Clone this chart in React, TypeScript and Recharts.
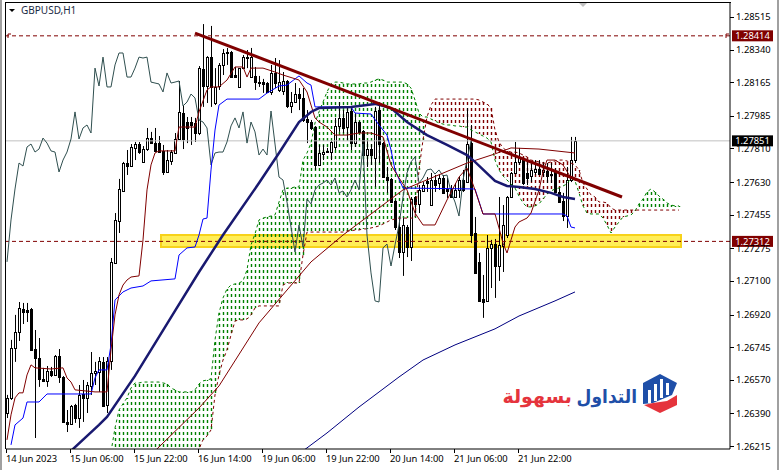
import { ComposedChart, Bar, Line, XAxis, YAxis, ReferenceLine, ReferenceArea } from 'recharts'

const FONT = '"Noto Sans", sans-serif'
const DARK_RED = '#800000'
const CLOUD_GREEN = '#008000'

const priceTicks = [1.28515, 1.2834, 1.28165, 1.27985, 1.2781, 1.2763, 1.27455, 1.27275, 1.271, 1.2692, 1.26745, 1.2657, 1.2639, 1.26215]
const timeTicks = [0, 16, 32, 48, 64, 80, 96, 112, 128]
const timeLabels = ['14 Jun 2023', '15 Jun 06:00', '15 Jun 22:00', '16 Jun 14:00', '19 Jun 06:00', '19 Jun 22:00', '20 Jun 14:00', '21 Jun 06:00', '21 Jun 22:00']

const opens = [
  1.26392, 1.26473, 1.26741, 1.26826, 1.2695, 1.26944, 1.2695, 1.26735, 1.26687, 1.26575,
  1.26564, 1.26617, 1.26596, 1.26698, 1.26585, 1.26344, 1.26333, 1.26435, 1.26365, 1.26494,
  1.26473, 1.26537, 1.26607, 1.26612, 1.26666, 1.26435, 1.26671, 1.27196, 1.27421, 1.27582,
  1.27732, 1.27716, 1.27813, 1.27834, 1.27738, 1.27807, 1.27866, 1.27839, 1.27839, 1.27797,
  1.27684, 1.27743, 1.27786, 1.27861, 1.28, 1.27952, 1.27952, 1.27947, 1.27893, 1.28236,
  1.28145, 1.283, 1.28054, 1.28145, 1.28258, 1.28327, 1.28327, 1.28204, 1.2814, 1.28241,
  1.283, 1.28193, 1.28199, 1.28166, 1.28166, 1.28161, 1.28113, 1.28215, 1.28124, 1.28118,
  1.28172, 1.28038, 1.28059, 1.28102, 1.28081, 1.27968, 1.27952, 1.27925, 1.27722, 1.27781,
  1.27797, 1.27791, 1.27818, 1.27931, 1.27974, 1.27925, 1.28011, 1.27839, 1.27952, 1.27904,
  1.27775, 1.27807, 1.27759, 1.28016, 1.27839, 1.27657, 1.27647, 1.27529, 1.27389, 1.27255,
  1.27389, 1.27282, 1.2755, 1.27513, 1.27582, 1.27636, 1.27507, 1.27641, 1.27625, 1.27652,
  1.27593, 1.27588, 1.2755, 1.27588, 1.27641, 1.2763, 1.27839, 1.27357, 1.27202, 1.27003,
  1.26993, 1.27277, 1.27298, 1.2718, 1.27287, 1.27346, 1.2755, 1.27679, 1.27738, 1.27748,
  1.27679, 1.27663, 1.27684, 1.277, 1.27684, 1.27689, 1.27673, 1.27689, 1.27577, 1.27529,
  1.27448, 1.27641, 1.27748,
]
const closes = [
  1.26473, 1.26741, 1.26826, 1.26955, 1.26934, 1.26934, 1.2673, 1.26687, 1.26575, 1.26564,
  1.26617, 1.26596, 1.26698, 1.26585, 1.26344, 1.26333, 1.2643, 1.26365, 1.26489, 1.26473,
  1.26542, 1.26607, 1.26617, 1.26671, 1.2643, 1.26671, 1.27202, 1.27427, 1.27593, 1.27732,
  1.27716, 1.27818, 1.27834, 1.27791, 1.27807, 1.27866, 1.27839, 1.27797, 1.27791, 1.27684,
  1.27748, 1.27791, 1.27861, 1.28006, 1.27861, 1.2792, 1.27936, 1.27893, 1.28241, 1.28145,
  1.283, 1.2814, 1.2814, 1.28258, 1.28322, 1.28322, 1.28193, 1.28193, 1.28241, 1.283,
  1.28295, 1.283, 1.28166, 1.28161, 1.28156, 1.28113, 1.28215, 1.28161, 1.28166, 1.28172,
  1.28038, 1.28059, 1.28102, 1.28081, 1.27963, 1.27952, 1.2792, 1.27722, 1.27786, 1.27791,
  1.27791, 1.27845, 1.27931, 1.27974, 1.2792, 1.28006, 1.27839, 1.27952, 1.27899, 1.27775,
  1.27807, 1.27775, 1.28011, 1.27834, 1.27657, 1.27641, 1.27523, 1.27389, 1.27255, 1.274,
  1.27282, 1.27539, 1.27513, 1.27588, 1.27614, 1.27625, 1.27641, 1.27614, 1.27652, 1.27572,
  1.27582, 1.2755, 1.27588, 1.27641, 1.27588, 1.27834, 1.27346, 1.27143, 1.26993, 1.26987,
  1.27277, 1.27298, 1.2718, 1.27293, 1.274, 1.2755, 1.27679, 1.27738, 1.27765, 1.27625,
  1.27652, 1.27695, 1.277, 1.27673, 1.27695, 1.27663, 1.27668, 1.27577, 1.27523, 1.27448,
  1.27641, 1.27748, 1.27851,
]
const highs = [
  1.26489, 1.26784, 1.26918, 1.26987, 1.26982, 1.26982, 1.26955, 1.26837, 1.26794, 1.26634,
  1.26644, 1.26639, 1.26703, 1.26735, 1.2659, 1.26408, 1.26435, 1.26441, 1.26542, 1.26569,
  1.26558, 1.26719, 1.26666, 1.26692, 1.26692, 1.26692, 1.27223, 1.27464, 1.27647, 1.27738,
  1.27802, 1.27834, 1.27845, 1.27845, 1.27823, 1.2792, 1.27899, 1.2792, 1.27877, 1.27829,
  1.27802, 1.27802, 1.27893, 1.28172, 1.28043, 1.27979, 1.27979, 1.27974, 1.28252, 1.28477,
  1.28305, 1.28467, 1.28241, 1.28268, 1.28343, 1.28349, 1.28333, 1.28247, 1.28241, 1.28311,
  1.28338, 1.28349, 1.28247, 1.28199, 1.28183, 1.28166, 1.28258, 1.28295, 1.28284, 1.2822,
  1.28177, 1.28113, 1.28161, 1.28134, 1.28134, 1.28016, 1.27963, 1.2793, 1.27829, 1.27829,
  1.27813, 1.2785, 1.27974, 1.28059, 1.28016, 1.28033, 1.28033, 1.28, 1.27957, 1.27909,
  1.27856, 1.27834, 1.28033, 1.28054, 1.27845, 1.27711, 1.27652, 1.27534, 1.27443, 1.27437,
  1.274, 1.2755, 1.27555, 1.27614, 1.2763, 1.27657, 1.27679, 1.27668, 1.27668, 1.27668,
  1.27652, 1.27614, 1.27625, 1.27657, 1.27695, 1.28027, 1.27936, 1.27443, 1.2725, 1.27132,
  1.27346, 1.2732, 1.27325, 1.2755, 1.27507, 1.27555, 1.27684, 1.27845, 1.27813, 1.27753,
  1.27748, 1.27732, 1.27748, 1.27748, 1.27738, 1.27732, 1.27732, 1.27705, 1.27598, 1.27572,
  1.27711, 1.27872, 1.27872,
]
const lows = [
  1.26365, 1.26462, 1.26666, 1.26778, 1.26869, 1.2688, 1.26725, 1.26258, 1.26532, 1.26558,
  1.26532, 1.26585, 1.26591, 1.26553, 1.26339, 1.2629, 1.26328, 1.26339, 1.26312, 1.26344,
  1.26392, 1.26489, 1.26542, 1.26505, 1.26424, 1.26392, 1.26623, 1.27191, 1.27357, 1.27577,
  1.27668, 1.27711, 1.27748, 1.27781, 1.27733, 1.27797, 1.27834, 1.27792, 1.27786, 1.27668,
  1.27679, 1.27722, 1.27781, 1.27856, 1.27807, 1.27839, 1.27829, 1.27845, 1.27882, 1.28033,
  1.28054, 1.28033, 1.28043, 1.28124, 1.28204, 1.28258, 1.28188, 1.28188, 1.2814, 1.28236,
  1.28241, 1.28188, 1.28124, 1.2814, 1.28108, 1.28108, 1.28097, 1.28134, 1.28113, 1.28097,
  1.28027, 1.28, 1.28054, 1.28016, 1.27952, 1.27839, 1.27909, 1.27695, 1.27716, 1.27748,
  1.27786, 1.27748, 1.27802, 1.27899, 1.27893, 1.27856, 1.27802, 1.27818, 1.27893, 1.27732,
  1.27711, 1.27722, 1.27604, 1.27732, 1.27652, 1.27572, 1.27518, 1.27373, 1.27223, 1.27127,
  1.27228, 1.27207, 1.27464, 1.27464, 1.27577, 1.27577, 1.27502, 1.27577, 1.27588, 1.27566,
  1.27545, 1.27545, 1.27545, 1.27545, 1.27577, 1.27625, 1.27303, 1.27138, 1.26987, 1.26902,
  1.26987, 1.27062, 1.27009, 1.271, 1.27148, 1.2733, 1.27545, 1.27673, 1.27722, 1.27614,
  1.27614, 1.2763, 1.27668, 1.27668, 1.27657, 1.27625, 1.27625, 1.27572, 1.27518, 1.27421,
  1.27384, 1.2763, 1.27732,
]

// chikou span, plotted from the first bar
const chikou = [
  1.27202, 1.27427, 1.27593, 1.27732, 1.27716, 1.27818, 1.27834, 1.27791, 1.27807, 1.27866,
  1.27839, 1.27797, 1.27791, 1.27684, 1.27748, 1.27791, 1.27861, 1.28006, 1.27861, 1.2792,
  1.27936, 1.27893, 1.28241, 1.28145, 1.283, 1.2814, 1.2814, 1.28258, 1.28322, 1.28322,
  1.28193, 1.28193, 1.28241, 1.283, 1.28295, 1.283, 1.28166, 1.28161, 1.28156, 1.28113,
  1.28215, 1.28161, 1.28166, 1.28172, 1.28038, 1.28059, 1.28102, 1.28081, 1.27963, 1.27952,
  1.2792, 1.27722, 1.27786, 1.27791, 1.27791, 1.27845, 1.27931, 1.27974, 1.2792, 1.28006,
  1.27839, 1.27952, 1.27899, 1.27775, 1.27807, 1.27775, 1.28011, 1.27834, 1.27657, 1.27641,
  1.27523, 1.27389, 1.27255, 1.274, 1.27282, 1.27539, 1.27513, 1.27588, 1.27614, 1.27625,
  1.27641, 1.27614, 1.27652, 1.27572, 1.27582, 1.2755, 1.27588, 1.27641, 1.27588, 1.27834,
  1.27346, 1.27143, 1.26993, 1.26987, 1.27277, 1.27298, 1.2718, 1.27293, 1.274, 1.2755,
  1.27679, 1.27738, 1.27765, 1.27625, 1.27652, 1.27695, 1.277, 1.27673, 1.27695, 1.27663,
  1.27668, 1.27577, 1.27523, 1.27448, 1.27641, 1.27748, 1.27851,
]

// senkou spans start at bar 26 and run 26 bars past the last candle
const SPAN_START = 26
const spanA = [
  1.26183, 1.26312, 1.26408, 1.26441, 1.26473, 1.26526, 1.26553, 1.26553, 1.26558, 1.26558,
  1.26558, 1.26558, 1.26558, 1.26553, 1.26548, 1.26526, 1.26516, 1.26505, 1.26505, 1.26505,
  1.26505, 1.26516, 1.26548, 1.26564, 1.26569, 1.26575, 1.26784, 1.26928, 1.27009, 1.27057,
  1.27078, 1.27084, 1.27089, 1.271, 1.27159, 1.27293, 1.27352, 1.27427, 1.27437, 1.27443,
  1.27448, 1.27454, 1.27523, 1.27588, 1.27598, 1.27598, 1.27604, 1.27604, 1.27748, 1.27786,
  1.27839, 1.27947, 1.28006, 1.28059, 1.28113, 1.28156, 1.28166, 1.28166, 1.28161, 1.28156,
  1.28156, 1.28156, 1.28156, 1.28161, 1.28161, 1.28166, 1.28177, 1.28183, 1.28177, 1.28166,
  1.28166, 1.28166, 1.28166, 1.28166, 1.28156, 1.28134, 1.2807, 1.28, 1.27979, 1.27979,
  1.27968, 1.27957, 1.27947, 1.27941, 1.27936, 1.27936, 1.27931, 1.27931, 1.27925, 1.27925,
  1.27909, 1.27899, 1.27888, 1.27877, 1.27866, 1.27845, 1.27748, 1.27695, 1.27663, 1.27641,
  1.2762, 1.27598, 1.27555, 1.27518, 1.27497, 1.27497, 1.27502, 1.27513, 1.27539, 1.27566,
  1.27582, 1.27593, 1.27598, 1.27609, 1.2762, 1.27652, 1.27636, 1.27572, 1.27502, 1.27464,
  1.27459, 1.27459, 1.27459, 1.27437, 1.274, 1.27357, 1.27389, 1.27416, 1.27443, 1.27448,
  1.27454, 1.27475, 1.27513, 1.27539, 1.27577, 1.27593, 1.27577, 1.27555, 1.27539, 1.27518,
  1.27507, 1.27502, 1.27502,
]
const spanB = [
  1.2615, 1.2615, 1.2615, 1.2615, 1.2615, 1.2615, 1.2615, 1.2615, 1.2615, 1.2615,
  1.2615, 1.2615, 1.2615, 1.2615, 1.2615, 1.2615, 1.2615, 1.2615, 1.2615, 1.2615,
  1.2615, 1.2615, 1.26199, 1.26248, 1.26269, 1.26301, 1.26489, 1.26596, 1.26676, 1.2673,
  1.2681, 1.26885, 1.26891, 1.26891, 1.26896, 1.26918, 1.26955, 1.26966, 1.26966, 1.26966,
  1.26966, 1.26966, 1.26966, 1.27078, 1.27089, 1.27089, 1.27089, 1.27089, 1.27239, 1.27362,
  1.27362, 1.27362, 1.27362, 1.27362, 1.27362, 1.27362, 1.27362, 1.27362, 1.27362, 1.27368,
  1.27368, 1.27373, 1.27373, 1.27379, 1.27379, 1.27384, 1.27389, 1.27395, 1.27405, 1.27416,
  1.27427, 1.27432, 1.27437, 1.27437, 1.27437, 1.27437, 1.27437, 1.27695, 1.27856, 1.27979,
  1.28043, 1.28075, 1.28075, 1.28075, 1.28075, 1.28075, 1.28075, 1.28075, 1.28075, 1.28075,
  1.28075, 1.28075, 1.2807, 1.28059, 1.28049, 1.28027, 1.27909, 1.27845, 1.27813, 1.27797,
  1.27791, 1.27791, 1.27786, 1.27775, 1.27765, 1.27748, 1.27743, 1.27738, 1.27732, 1.27732,
  1.27738, 1.27743, 1.27748, 1.27748, 1.27743, 1.27732, 1.27722, 1.27695, 1.27625, 1.27593,
  1.27561, 1.2755, 1.27523, 1.27523, 1.27518, 1.27491, 1.2748, 1.2748, 1.2748, 1.2748,
  1.2748, 1.2748, 1.2748, 1.2748, 1.2748, 1.2748, 1.2748, 1.2748, 1.2748, 1.2748,
  1.2748, 1.2748, 1.2748,
]

// lines read at their corners as [bar, price]; the stretches between are joined straight
const tenkan = [
  [0, 1.26248], [1, 1.26382], [2, 1.26473], [3, 1.265], [4, 1.265], [5, 1.26596], [6, 1.2665], [7, 1.26634],
  [11, 1.26628], [14, 1.26634], [15, 1.2658], [16, 1.26558], [17, 1.26516], [22, 1.26505], [25, 1.26505],
  [26, 1.2673], [27, 1.26918], [28, 1.27025], [29, 1.27078], [30, 1.27105], [31, 1.27121], [33, 1.27127],
  [34, 1.2732], [35, 1.27588], [36, 1.27722], [37, 1.27786], [38, 1.27797], [42, 1.27797], [43, 1.27925],
  [47, 1.27925], [48, 1.28006], [50, 1.28124], [51, 1.2814], [53, 1.2814], [55, 1.28177], [57, 1.28247],
  [59, 1.28247], [60, 1.28193], [61, 1.28241], [64, 1.28241], [67, 1.2822], [69, 1.28204], [73, 1.28177],
  [75, 1.28113], [76, 1.28043], [77, 1.27974], [78, 1.27952], [80, 1.27925], [82, 1.27882], [85, 1.27882],
  [88, 1.27893], [91, 1.27893], [94, 1.27872], [96, 1.27722], [98, 1.27652], [100, 1.27588], [102, 1.27464],
  [104, 1.274], [107, 1.274], [110, 1.27534], [113, 1.27657], [115, 1.27705], [117, 1.27588], [119, 1.27459],
  [122, 1.27459], [123, 1.27384], [124, 1.27303], [125, 1.2725], [126, 1.2732], [127, 1.27389], [128, 1.27416],
  [130, 1.27437], [131, 1.27464], [133, 1.27588], [134, 1.27684], [135, 1.27748], [137, 1.27748], [139, 1.27722],
  [141, 1.27652], [142, 1.27641],
]
const kijun = [
  [1, 1.26221], [2, 1.26328], [4, 1.26365], [5, 1.26451], [8, 1.26451], [10, 1.26494], [21, 1.26494], [22, 1.2658],
  [23, 1.26623], [25, 1.26623], [26, 1.26757], [27, 1.26998], [29, 1.27041], [31, 1.27062], [34, 1.27073],
  [36, 1.271], [42, 1.27111], [43, 1.27239], [45, 1.27277], [47, 1.27282], [48, 1.27346], [49, 1.27432],
  [50, 1.27437], [51, 1.27695], [52, 1.27909], [53, 1.28043], [55, 1.28075], [63, 1.28075], [65, 1.28107],
  [68, 1.28145], [70, 1.2815], [73, 1.28199], [75, 1.28161], [76, 1.2815], [77, 1.28033], [86, 1.28033],
  [87, 1.28], [91, 1.27995], [93, 1.27936], [95, 1.27882], [96, 1.27802], [97, 1.27695], [99, 1.27598],
  [117, 1.27593], [119, 1.27459], [139, 1.27459], [140, 1.27448], [141, 1.27389], [142, 1.27384],
]
const maNavyThick = [
  [16, 1.26189], [23, 1.26328], [25, 1.26371], [32, 1.26591], [42, 1.26939], [48, 1.27148], [54, 1.27346],
  [63, 1.27625], [68, 1.27786], [73, 1.27952], [76, 1.28006], [78, 1.28027], [86, 1.28033], [92, 1.28049],
  [96, 1.28027], [100, 1.27952], [105, 1.27882], [110, 1.27829], [115, 1.27775], [117, 1.27738], [122, 1.27636],
  [125, 1.27609], [128, 1.27604], [132, 1.27593], [136, 1.27572], [139, 1.2755], [142, 1.27539],
]
const maRedThin = [
  [37, 1.26189], [48, 1.26419], [53, 1.26537], [63, 1.26875], [76, 1.27202], [84, 1.27346], [99, 1.27588],
  [115, 1.27732], [122, 1.27781], [126, 1.27813], [133, 1.27807], [142, 1.27786],
]
const maNavyThin = [
  [74, 1.26189], [80, 1.26285], [88, 1.26424], [98, 1.26585], [104, 1.26676], [112, 1.26757], [122, 1.26843],
  [128, 1.26912], [137, 1.26993], [142, 1.27041],
]

const resistanceLevel = 1.28414
const supportLevel = 1.27312
const lastPrice = 1.27851
const trendFrom = { x: 47, y: 1.28429 }
const trendTo = { x: 153.75, y: 1.2755 }
const zone = { x1: 38.5, x2: 168.5, y1: 1.27346, y2: 1.27282 }

const BAR_COUNT = 169

function pick(points: number[][], i: number) {
  const hit = points.find((p) => p[0] === i)
  return hit ? hit[1] : undefined
}

const rows = Array.from({ length: BAR_COUNT }, (_, i) => {
  const a = spanA[i - SPAN_START]
  const b = spanB[i - SPAN_START]
  return {
    i,
    open: opens[i],
    close: closes[i],
    range: highs[i] !== undefined ? [lows[i], highs[i]] : undefined,
    high: highs[i],
    low: lows[i],
    chikou: chikou[i],
    spanA: a,
    spanB: b,
    cloud: a !== undefined ? [Math.min(a, b), Math.max(a, b)] : undefined,
    tenkan: pick(tenkan, i),
    kijun: pick(kijun, i),
    maNavyThick: pick(maNavyThick, i),
    maRedThin: pick(maRedThin, i),
    maNavyThin: pick(maNavyThin, i),
  }
})

function Candle(props: any) {
  const { x, y, width, height, payload } = props
  if (payload.open === undefined || !height) return <g />
  const perPrice = height / (payload.high - payload.low)
  const yOpen = y + (payload.high - payload.open) * perPrice
  const yClose = y + (payload.high - payload.close) * perPrice
  const cx = Math.round(x + width / 2) + 0.5
  const top = Math.round(Math.min(yOpen, yClose)) + 0.5
  const bottom = Math.round(Math.max(yOpen, yClose)) + 0.5
  const up = payload.close >= payload.open
  return (
    <g>
      <line x1={cx} x2={cx} y1={y} y2={y + height} stroke="#000" />
      <rect x={cx - 1} y={top} width={2} height={Math.max(bottom - top, 1)} fill={up ? '#fff' : '#000'} stroke="#000" />
    </g>
  )
}

function CloudStroke(props: any) {
  const { x, y, width, height, payload } = props
  if (payload.cloud === undefined) return <g />
  const cx = Math.round(x + width / 2) + 0.5
  const color = payload.spanA >= payload.spanB ? CLOUD_GREEN : DARK_RED
  return (
    <line
      x1={cx}
      x2={cx}
      y1={y}
      y2={y + height}
      style={{ stroke: color, strokeWidth: 1.4 }}
      strokeDasharray="3 3"
      strokeDashoffset={y % 6}
    />
  )
}

function TimeTick({ x, payload, index }: any) {
  const px = Math.round(x) - 1
  return (
    <g>
      <line x1={px + 0.5} x2={px + 0.5} y1={449} y2={453} stroke="#000" />
      <text x={px} y={462} fontFamily={FONT} fontSize={9.4} fill="#000">
        {timeLabels[timeTicks.indexOf(payload.value)] ?? timeLabels[index]}
      </text>
    </g>
  )
}

function PriceTick({ y, payload }: any) {
  const py = Math.round(y) + 0.5
  return (
    <g>
      <line x1={730} x2={734} y1={py} y2={py} stroke="#000" />
      <text x={736} y={y + 3.5} fontFamily={FONT} fontSize={9.4} fill="#000">
        {payload.value.toFixed(5)}
      </text>
    </g>
  )
}

function priceTag(value: number, fill: string) {
  return ({ viewBox }: any) => (
    <g>
      <rect x={732} y={viewBox.y - 5.5} width={41} height={11} fill={fill} />
      <text x={752.5} y={viewBox.y + 3.5} textAnchor="middle" fontFamily={FONT} fontSize={9.4} fill="#fff">
        {value.toFixed(5)}
      </text>
    </g>
  )
}

function Logo() {
  return (
    <svg width={779} height={470} style={{ position: 'absolute', left: 0, top: 0, pointerEvents: 'none' }}>
      <polygon points="660,374 677,383 672,395 653,403 643,404 643,383" fill="#1f4fa8" />
      <rect x={648} y={390} width={3} height={13} fill="#fff" />
      <rect x={654} y={384} width={3} height={17} fill="#fff" />
      <rect x={660} y={379} width={3} height={19} fill="#fff" />
      <rect x={666} y={383} width={3} height={12} fill="#fff" />
      <polygon points="677,395 677,405 660,413 644,405 653,403 667,401" fill="#e5343c" />
      <text transform="translate(637,403) scale(0.9,1)" direction="rtl" fontFamily='"DejaVu Sans", sans-serif' fontWeight="bold" fontSize={19} fill="#1f4fa8">
        التداول
      </text>
      <text x={572} y={403} direction="rtl" fontFamily='"DejaVu Sans", sans-serif' fontWeight="bold" fontSize={19} fill="#e5343c">
        بسهولة
      </text>
      <polygon points="579,3 587,3 583,7" fill="#c0c0c0" />
      <polygon points="9,9 15,9 12,12" fill="#000" />
      <polyline points="8,38 8,34 11,34" fill="none" stroke={DARK_RED} />
      <polyline points="726,38 726,34 729,34" fill="none" stroke={DARK_RED} />
      <text x={21} y={14} fontFamily={FONT} fontSize={10} fill="#1a2a44">
        GBPUSD,H1
      </text>
    </svg>
  )
}

export default function App() {
  return (
    <div style={{ position: 'absolute', left: 0, top: 0, width: 779, height: 470, background: '#fff', overflow: 'hidden' }}>
      <div style={{ position: 'absolute', left: 0, top: 0, width: 2, height: 470, background: '#a0a0a0' }} />
      <div style={{ position: 'absolute', right: 0, top: 0, width: 2, height: 470, background: '#a0a0a0' }} />
      <div style={{ position: 'absolute', left: 5, top: 2, width: 1, height: 447, background: '#000' }} />
      <div style={{ position: 'absolute', left: 5, top: 2, width: 726, height: 1, background: '#000' }} />
      <ComposedChart
        width={779}
        height={470}
        data={rows}
        margin={{ top: 3, left: 6, right: 0, bottom: 0 }}
        style={{ position: 'absolute', left: 0, top: 0 }}
      >
        <XAxis
          dataKey="i"
          type="number"
          domain={[-0.25, 180.75]}
          ticks={timeTicks}
          interval={0}
          height={21}
          tick={<TimeTick />}
          tickLine={false}
          axisLine={{ stroke: '#000' }}
        />
        <XAxis xAxisId="cloud" dataKey="i" type="number" domain={[-0.25, 180.75]} height={0} hide />
        <YAxis
          orientation="right"
          type="number"
          domain={[1.26199, 1.2859]}
          allowDataOverflow
          ticks={priceTicks}
          interval={0}
          width={49}
          tick={<PriceTick />}
          tickLine={false}
          axisLine={{ stroke: '#000' }}
        />

        <ReferenceArea
          x1={zone.x1}
          x2={zone.x2}
          y1={zone.y1}
          y2={zone.y2}
          fill="#ffee58"
          fillOpacity={1}
          stroke="#f7d21a"
          strokeWidth={2}
        />
        <ReferenceLine y={lastPrice} stroke="#c0c0c0" label={{ content: priceTag(lastPrice, '#000') }} />
        <ReferenceLine y={resistanceLevel} stroke={DARK_RED} strokeDasharray="4 3" label={{ content: priceTag(resistanceLevel, DARK_RED) }} />
        <ReferenceLine y={supportLevel} stroke={DARK_RED} strokeDasharray="4 3" label={{ content: priceTag(supportLevel, DARK_RED) }} />

        <Bar xAxisId="cloud" dataKey="cloud" barSize={1} shape={<CloudStroke />} isAnimationActive={false} />
        <Line type="linear" dataKey="spanA" stroke={CLOUD_GREEN} strokeDasharray="3 3" strokeWidth={1} dot={false} activeDot={false} isAnimationActive={false} />
        <Line type="linear" dataKey="spanB" stroke={DARK_RED} strokeDasharray="3 3" strokeWidth={1} dot={false} activeDot={false} isAnimationActive={false} />
        <Line type="linear" dataKey="chikou" stroke="#2f4f4f" strokeWidth={1} dot={false} activeDot={false} isAnimationActive={false} />
        <Line type="linear" dataKey="maNavyThin" stroke="#000080" strokeWidth={1} connectNulls dot={false} activeDot={false} isAnimationActive={false} />
        <Line type="linear" dataKey="maRedThin" stroke={DARK_RED} strokeWidth={1} connectNulls dot={false} activeDot={false} isAnimationActive={false} />
        <Line type="linear" dataKey="kijun" stroke="#0000ff" strokeWidth={1} connectNulls dot={false} activeDot={false} isAnimationActive={false} />
        <Line type="linear" dataKey="tenkan" stroke={DARK_RED} strokeWidth={1} connectNulls dot={false} activeDot={false} isAnimationActive={false} />
        <Bar dataKey="range" barSize={3} shape={<Candle />} isAnimationActive={false} />
        <Line type="linear" dataKey="maNavyThick" stroke="#191970" strokeWidth={2.5} connectNulls dot={false} activeDot={false} isAnimationActive={false} />
        <ReferenceLine segment={[trendFrom, trendTo]} stroke={DARK_RED} strokeWidth={3} />
      </ComposedChart>
      <Logo />
    </div>
  )
}
